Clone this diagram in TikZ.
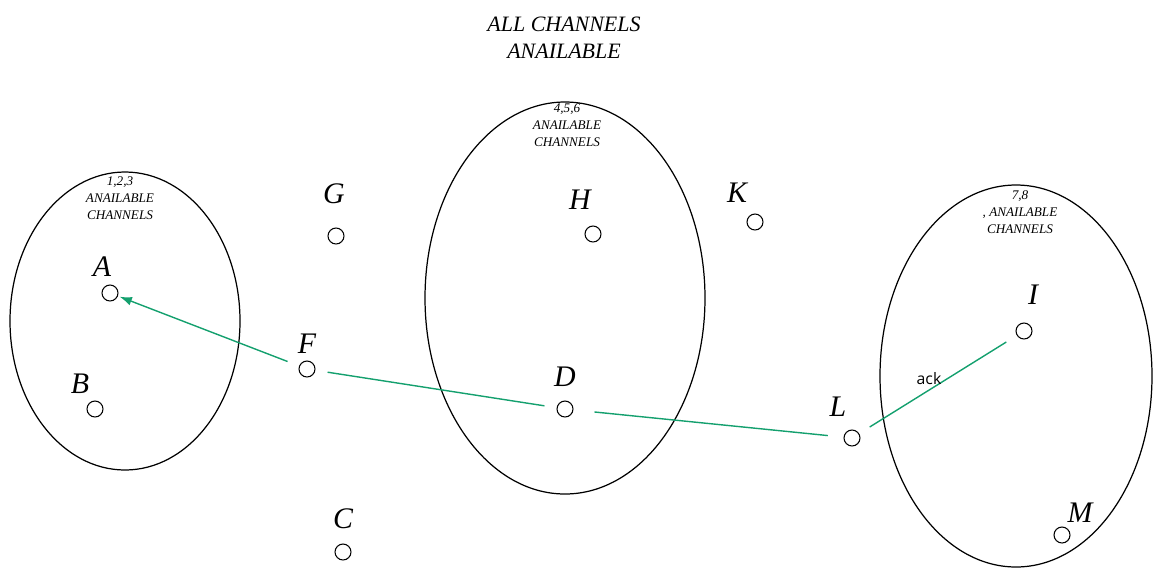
\documentclass[tikz,border=0pt]{standalone}
\usepackage{fontspec}
\setmainfont{Liberation Serif}
\newfontfamily\ackfont{Open Sans}
\usepackage{xcolor}
\usepackage{tikz}
\usetikzlibrary{arrows.meta}
\definecolor{ackgreen}{RGB}{20,160,110}

\tikzset{
  stn/.style={circle, draw, line width=0.6pt, minimum size=0.32cm, inner sep=0pt},
  lbl/.style={inner sep=0pt, font=\fontsize{17}{17}\selectfont\itshape},
  zonetxt/.style={inner sep=0pt, align=center, font=\fontsize{7.5}{9.6}\selectfont\itshape},
  msg/.style={ackgreen, line width=0.8pt, shorten <=7pt, shorten >=7pt}
}

\begin{document}
\begin{tikzpicture}[x=0.02cm, y=-0.02cm]
        \useasboundingbox (0,0) rectangle (1156,569);
        % channel zones
        \draw[line width=0.7pt] (125,321) ellipse (115 and 149);
        \draw[line width=0.7pt] (565,298) ellipse (140 and 196);
        \draw[line width=0.7pt] (1016,376) ellipse (136 and 191);
        \node[align=center, inner sep=0pt, font=\fontsize{12.5}{15.3}\selectfont\itshape] (title) at (564,38) {ALL CHANNELS\\ANAILABLE};
        \node[zonetxt] (zoneL) at (120,198) {1,2,3\\ANAILABLE\\CHANNELS};
        \node[zonetxt] (zoneM) at (567,125) {4,5,6\\ANAILABLE\\CHANNELS};
        \node[zonetxt] (zoneR) at (1020,212) {7,8\\, ANAILABLE\\CHANNELS};
        % stations
        \node[stn] (A) at (110,293) {};
        \node[stn] (B) at (95,409) {};
        \node[stn] (G) at (336,236) {};
        \node[stn] (C) at (343,552) {};
        \node[stn] (F) at (307,369) {};
        \node[stn] (H) at (593,234) {};
        \node[stn] (K) at (755,222) {};
        \node[stn] (D) at (565,409) {};
        \node[stn] (I) at (1024,331) {};
        \node[stn] (L) at (852,438) {};
        \node[stn] (M) at (1062,535) {};
        \node[lbl] (Alab) at (102,267) {A};
        \node[lbl] (Blab) at (80,384) {B};
        \node[lbl] (Glab) at (334,194) {G};
        \node[lbl] (Clab) at (343,519) {C};
        \node[lbl] (Flab) at (307,344) {F};
        \node[lbl] (Hlab) at (580,200) {H};
        \node[lbl] (Klab) at (737,193) {K};
        \node[lbl] (Dlab) at (565,377) {D};
        \node[lbl] (Ilab) at (1033,295) {I};
        \node[lbl] (Llab) at (838,407) {L};
        \node[lbl] (Mlab) at (1080,513) {M};
        % message path
        \draw[msg] (I) -- (L);
        \draw[msg, shorten <=9pt, shorten >=12pt] (L) -- (D);
        \draw[msg] (D) -- (F);
        \draw[msg, shorten >=1pt, -{Latex[length=7pt,width=5pt]}] (F) -- (A);
        \node[inner sep=0pt, font=\ackfont\fontsize{9}{9}\selectfont] (ack) at (929,379) {ack};
        \end{tikzpicture}
\end{document}
